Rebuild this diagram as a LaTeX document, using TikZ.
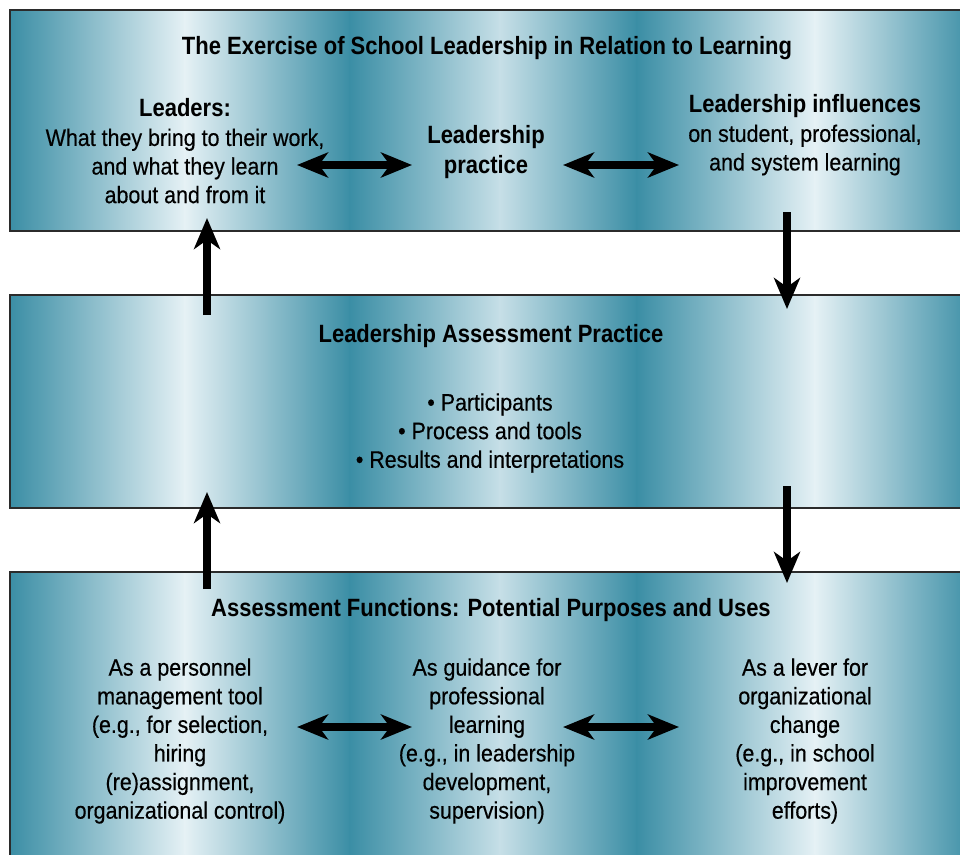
\documentclass[tikz,border=0pt]{standalone}
\usepackage{fontspec}
\setmainfont{Liberation Sans}[FakeStretch=0.88]
\newfontfamily\bodyfont{Liberation Sans}[FakeStretch=0.9, FakeBold=0.4]
\usetikzlibrary{arrows.meta}

\definecolor{bandDark}{HTML}{3B8EA5}
\definecolor{bandLight}{HTML}{E5F1F5}
\definecolor{bandPale}{HTML}{C6DFE7}
\definecolor{bandEdge}{HTML}{2B2B2B}

\tikzset{
  band/.style={draw=bandEdge, line width=1.3pt},
  head/.style={font=\fontsize{25}{30}\selectfont\bfseries, align=center, inner sep=0pt},
  body/.style={font=\bodyfont\fontsize{23.8}{28.6}\selectfont, align=center, inner sep=0pt},
  flow/.style={line width=7.5pt, -{Stealth[length=31pt,width=26pt,inset=9pt]}},
  twoway/.style={line width=7.5pt, {Stealth[length=31pt,width=25pt,inset=9pt]}-{Stealth[length=31pt,width=25pt,inset=9pt]}},
}

% one striped band: top, bottom
\newcommand\bandfill[2]{%
  \foreach \xa/\ca/\xb/\cb in {10/bandDark/185/bandLight, 185/bandLight/350/bandDark,
      350/bandDark/500/bandPale, 500/bandPale/637/bandDark,
      637/bandDark/815/bandLight, 815/bandLight/975/bandDark}
    {\shade[left color=\ca, right color=\cb] (\xa-0.3,#1) rectangle (\xb+0.3,#2);}
  \draw[band] (10,#1) rectangle (975,#2);}

\begin{document}
\begin{tikzpicture}[x=1pt,y=-1pt]
  \useasboundingbox (0,0) rectangle (960,854);
  \bandfill{10}{231}
  \bandfill{295}{508}
  \bandfill{572}{880}

  % top band
  \node[head] (exercise) at (487,48) {The Exercise of School Leadership in Relation to Learning};
  \node[head] (leadersHead) at (185,108) {Leaders:};
  \node[body] (leaders) at (185,166) {What they bring to their work,\\and what they learn\\about and from it};
  \node[head] (practice) at (486,152) {Leadership\\practice};
  \node[head] (influenceHead) at (805,106) {Leadership influences};
  \node[body] (influence) at (805,150) {on student, professional,\\and system learning};

  % middle band
  \node[head] (assessment) at (491,336) {Leadership Assessment Practice};
  \node[body] (aspects) at (490,433) {\textbullet{} Participants\\\textbullet{} Process and tools\\\textbullet{} Results and interpretations};

  % bottom band
  \node[head] (functions) at (491,610) {Assessment Functions: Potential Purposes and Uses};
  \node[body] (personnel) at (180,741) {As a personnel\\management tool\\(e.g., for selection,\\hiring\\(re)assignment,\\organizational control)};
  \node[body] (guidance) at (487,741) {As guidance for\\professional\\learning\\(e.g., in leadership\\development,\\supervision)};
  \node[body] (lever) at (805,741) {As a lever for\\organizational\\change\\(e.g., in school\\improvement\\efforts)};

  % arrow ends
  \coordinate (tl1) at (297,165);  \coordinate (tl2) at (412,165);
  \coordinate (tr1) at (563,165);  \coordinate (tr2) at (679,165);
  \coordinate (bl1) at (297,727);  \coordinate (bl2) at (412,727);
  \coordinate (br1) at (563,727);  \coordinate (br2) at (679,727);
  \coordinate (up1a) at (207,315); \coordinate (up1b) at (207,218);
  \coordinate (up2a) at (207,589); \coordinate (up2b) at (207,492);
  \coordinate (dn1a) at (787,212); \coordinate (dn1b) at (787,309);
  \coordinate (dn2a) at (787,486); \coordinate (dn2b) at (787,583);

  \draw[twoway] (tl1) -- (tl2);
  \draw[twoway] (tr1) -- (tr2);
  \draw[twoway] (bl1) -- (bl2);
  \draw[twoway] (br1) -- (br2);
  \draw[flow] (up1a) -- (up1b);
  \draw[flow] (up2a) -- (up2b);
  \draw[flow] (dn1a) -- (dn1b);
  \draw[flow] (dn2a) -- (dn2b);
\end{tikzpicture}
\end{document}
